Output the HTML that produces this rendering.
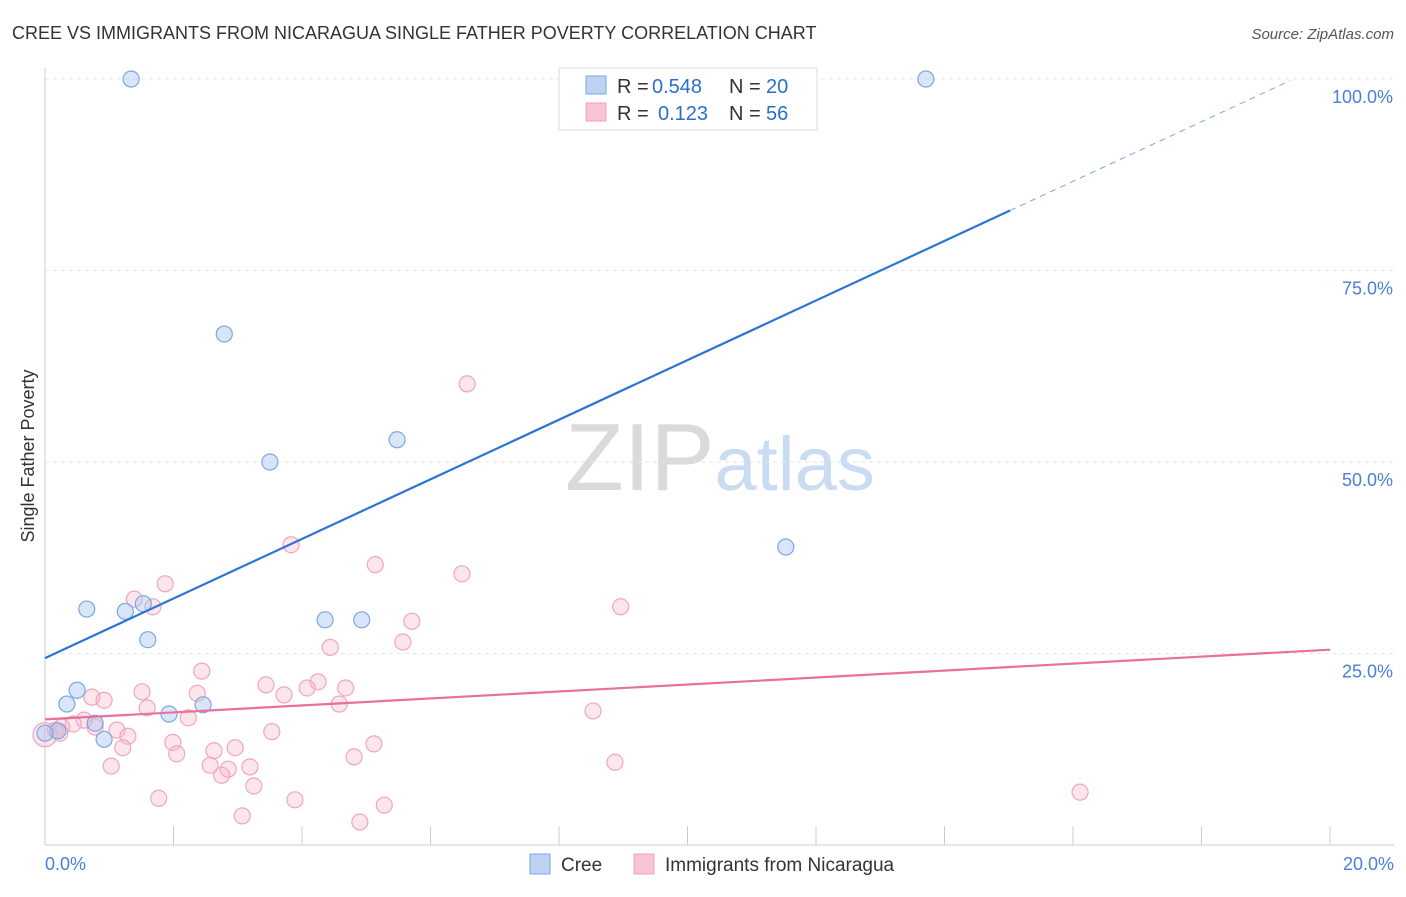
<!DOCTYPE html>
<html><head><meta charset="utf-8"><style>
body{margin:0;background:#fff;font-family:"Liberation Sans",sans-serif}
svg text{font-family:"Liberation Sans",sans-serif}
</style></head><body>
<svg width="1406" height="892" xmlns="http://www.w3.org/2000/svg" id="c">
<text x="12" y="39" font-size="18" fill="#333">CREE VS IMMIGRANTS FROM NICARAGUA SINGLE FATHER POVERTY CORRELATION CHART</text>
<text x="1394" y="39" font-size="15" fill="#555" text-anchor="end" font-style="italic">Source: ZipAtlas.com</text>
<text transform="translate(34,456) rotate(-90)" font-size="18" fill="#333" text-anchor="middle">Single Father Poverty</text>
<text x="720" y="490" font-size="96" text-anchor="middle" fill="#ddd" font-family="Liberation Serif"><tspan fill="#dadada">ZIP</tspan><tspan fill="#cadcf2" font-family="Liberation Sans" font-size="76">atlas</tspan></text>
<g id="grid"></g><g id="marks"></g>
<g>
<rect x="559" y="68" width="258" height="62" fill="#fff" stroke="#ddd"/>
<rect x="586" y="76" width="20" height="18" fill="#bcd3f4" stroke="#7ea6e0"/>
<rect x="586" y="103" width="20" height="18" fill="#f8c4d4" stroke="#f0a0b8"/>
<text x="617" y="93" font-size="20" fill="#333">R =</text>
<text x="652" y="93" font-size="20" fill="#2a6fd0">0.548</text>
<text x="729" y="93" font-size="20" fill="#333">N =</text>
<text x="766" y="93" font-size="20" fill="#2a6fd0">20</text>
<text x="617" y="120" font-size="20" fill="#333">R =</text>
<text x="658" y="120" font-size="20" fill="#2a6fd0">0.123</text>
<text x="729" y="120" font-size="20" fill="#333">N =</text>
<text x="766" y="120" font-size="20" fill="#2a6fd0">56</text>
</g>
<g>
<rect x="530" y="854" width="20" height="20" fill="#bcd3f4" stroke="#7ea6e0"/>
<text x="561" y="871" font-size="19" fill="#333">Cree</text>
<rect x="634" y="854" width="20" height="20" fill="#f8c4d4" stroke="#f0a0b8"/>
<text x="665" y="871" font-size="19" fill="#333">Immigrants from Nicaragua</text>
</g>
</svg>
<script>
const yTicks=[25,50,75,100];
const yTickLabels=["25.0%","50.0%","75.0%","100.0%"];
const xTickLabels=["0.0%","20.0%"];
const creeX=[1.34,13.71,2.79,3.50,5.48,11.53,0.65,1.25,1.53,1.60,4.36,4.93,0.50,0.34,0.78,0.20,0.92,1.93,2.46,0.0];
const creeY=[100,100,66.7,50.0,52.9,38.9,30.8,30.5,31.5,26.8,29.4,29.4,20.2,18.4,15.9,14.9,13.8,17.1,18.3,14.6];
const nicX=[6.57,3.83,5.14,6.49,1.87,1.39,1.68,8.96,5.71,4.44,5.57,2.44,3.44,4.25,4.08,4.68,3.72,1.51,2.37,0.73,0.92,4.58,1.59,8.53,2.23,0.61,0.44,0.26,0.16,1.12,3.53,1.29,1.99,2.96,1.21,2.63,5.12,2.05,4.81,1.03,2.57,3.19,8.87,2.85,2.75,3.25,1.77,3.89,16.11,5.28,3.07,4.90,0.0,0.78,0.23];
const nicY=[60.2,39.2,36.6,35.4,34.1,32.1,31.1,31.1,29.2,25.8,26.5,22.7,20.9,21.3,20.5,20.5,19.6,20.0,19.8,19.3,18.9,18.4,17.9,17.5,16.6,16.3,15.8,15.4,15.0,15.0,14.8,14.2,13.4,12.7,12.7,12.3,13.2,11.9,11.5,10.3,10.4,10.2,10.8,9.9,9.1,7.7,6.1,5.9,6.9,5.2,3.8,3.0,14.4,15.4,14.6];
const creeLine=[24.4,3.89];
const nicLine=[16.4,0.455];
const NS="http://www.w3.org/2000/svg";
const X=v=>45+v*64.25, Y=v=>845-v*7.66;
function mk(t,a,p){const e=document.createElementNS(NS,t);for(const k in a)e.setAttribute(k,a[k]);p.appendChild(e);return e;}
const g=document.getElementById('grid'),m=document.getElementById('marks');
yTicks.forEach((t,i)=>{
 const l=mk('line',{x1:45,x2:1394,y1:Y(t),y2:Y(t),stroke:'#e4e4e4','stroke-dasharray':'4,4'},g);
 
 
 const tx=mk('text',{x:1393,y:Y(t)+24,'font-size':18,fill:'#4a80d6','text-anchor':'end'},g);tx.textContent=yTickLabels[i];
 
 
});
mk('line',{x1:45,x2:45,y1:68,y2:845,stroke:'#ccc'},g);
mk('line',{x1:45,x2:1394,y1:845,y2:845,stroke:'#ccc'},g);
for(let i=0;i<=10;i++){const l=mk('line',{x1:X(i*2),x2:X(i*2),y1:826,y2:845,stroke:'#ccc'},g);
 
 }
[[0,'start',45],[20,'end',1394]].forEach((d,i)=>{const t=mk('text',{x:d[2],y:870,'font-size':18,fill:'#4a80d6','text-anchor':d[1]},g);t.textContent=xTickLabels[i];
 
 });
nicX.forEach((x,i)=>{const c=mk('circle',{cx:X(x),cy:Y(nicY[i]),r:i==52?12:8,fill:'rgba(248,180,200,0.35)',stroke:'#f0a6be','stroke-width':1.2},m);
 
 });
creeX.forEach((x,i)=>{const c=mk('circle',{cx:X(x),cy:Y(creeY[i]),r:8,fill:'rgba(170,200,242,0.45)',stroke:'#7ea6e0','stroke-width':1.2},m);
 
 });
const cl=v=>creeLine[0]+creeLine[1]*v, nl=v=>nicLine[0]+nicLine[1]*v;
let a=mk('line',{x1:X(0),y1:Y(cl(0)),x2:X(15.02),y2:Y(cl(15.02)),stroke:'#2a74d6','stroke-width':2.2},m);


a=mk('line',{x1:X(15.02),y1:Y(cl(15.02)),x2:X(19.38),y2:Y(cl(19.38)),stroke:'#7ea6e0','stroke-width':1,'stroke-dasharray':'6,5'},m);


a=mk('line',{x1:X(0),y1:Y(nl(0)),x2:X(20),y2:Y(nl(20)),stroke:'#e8709a','stroke-width':2.2},m);


</script>
</body></html>
